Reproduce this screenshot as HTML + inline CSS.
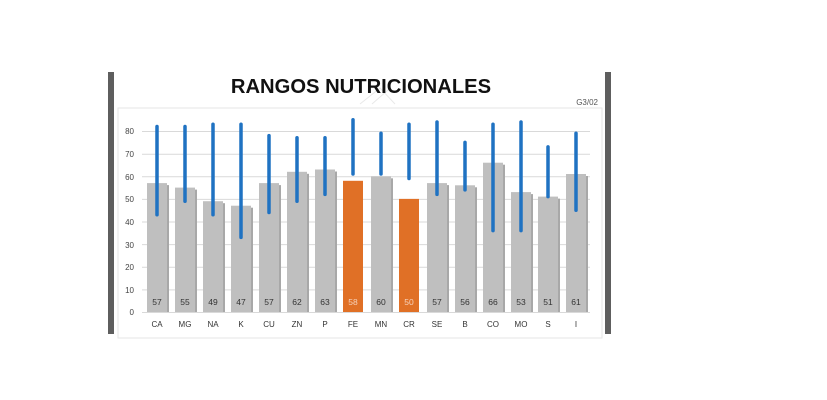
<!DOCTYPE html>
<html><head><meta charset="utf-8"><style>
html,body{margin:0;padding:0;background:#fff;}
svg{display:block;font-family:"Liberation Sans",sans-serif;}
</style></head><body>
<svg width="827" height="400" viewBox="0 0 827 400" xmlns="http://www.w3.org/2000/svg">
<rect x="108" y="72" width="6" height="262" fill="#5e5e5e"/>
<rect x="605" y="72" width="6" height="262" fill="#5e5e5e"/>
<rect x="118" y="108" width="484" height="230" fill="#fff" stroke="#e6e6e6"/>
<g stroke="#e8e8e8" stroke-width="1" fill="none">
<path d="M360 104 L380 88 L395 104" /><path d="M372 104 L388 90"/>
</g>
<text x="361" y="93" font-size="20.2" font-weight="bold" text-anchor="middle" fill="#111">RANGOS NUTRICIONALES</text>
<text x="598" y="105" font-size="8" text-anchor="end" fill="#555">G3/02</text>
<g stroke="#d9d9d9" stroke-width="1">
<line x1="142" x2="590" y1="312.5" y2="312.5"/>
<line x1="142" x2="590" y1="289.9" y2="289.9"/>
<line x1="142" x2="590" y1="267.3" y2="267.3"/>
<line x1="142" x2="590" y1="244.6" y2="244.6"/>
<line x1="142" x2="590" y1="222" y2="222"/>
<line x1="142" x2="590" y1="199.4" y2="199.4"/>
<line x1="142" x2="590" y1="176.8" y2="176.8"/>
<line x1="142" x2="590" y1="154.2" y2="154.2"/>
<line x1="142" x2="590" y1="131.5" y2="131.5"/>
</g>
<g font-size="8" fill="#444" text-anchor="end">
<text x="134" y="315">0</text><text x="134" y="293">10</text><text x="134" y="270">20</text>
<text x="134" y="248">30</text><text x="134" y="225">40</text><text x="134" y="202">50</text>
<text x="134" y="180">60</text><text x="134" y="157">70</text><text x="134" y="134">80</text>
</g>
<!-- shadows -->
<g fill="#a8a8a8">
<rect x="149" y="185.1" width="20" height="126.9"/>
<rect x="177" y="189.6" width="20" height="122.4"/>
<rect x="205" y="203.2" width="20" height="108.8"/>
<rect x="233" y="207.7" width="20" height="104.3"/>
<rect x="261" y="185.1" width="20" height="126.9"/>
<rect x="289" y="173.8" width="20" height="138.2"/>
<rect x="317" y="171.5" width="20" height="140.5"/>
<rect x="373" y="178.3" width="20" height="133.7"/>
<rect x="429" y="185.1" width="20" height="126.9"/>
<rect x="457" y="187.3" width="20" height="124.7"/>
<rect x="485" y="164.7" width="20" height="147.3"/>
<rect x="513" y="194.1" width="20" height="117.9"/>
<rect x="540" y="198.6" width="20" height="113.4"/>
<rect x="568" y="176" width="20" height="136"/>
</g>
<g fill="#bfbfbf">
<rect x="147" y="183.1" width="20" height="128.9"/>
<rect x="175" y="187.6" width="20" height="124.4"/>
<rect x="203" y="201.2" width="20" height="110.8"/>
<rect x="231" y="205.7" width="20" height="106.3"/>
<rect x="259" y="183.1" width="20" height="128.9"/>
<rect x="287" y="171.8" width="20" height="140.2"/>
<rect x="315" y="169.5" width="20" height="142.5"/>
<rect x="371" y="176.3" width="20" height="135.7"/>
<rect x="427" y="183.1" width="20" height="128.9"/>
<rect x="455" y="185.3" width="20" height="126.7"/>
<rect x="483" y="162.7" width="20" height="149.3"/>
<rect x="511" y="192.1" width="20" height="119.9"/>
<rect x="538" y="196.6" width="20" height="115.4"/>
<rect x="566" y="174" width="20" height="138"/>
</g>
<g fill="#e07026">
<rect x="343" y="180.8" width="20" height="131.2"/>
<rect x="399" y="198.9" width="20" height="113.1"/>
</g>
<g font-size="8.5" text-anchor="middle" fill="#333">
<text x="157" y="305">57</text><text x="185" y="305">55</text><text x="213" y="305">49</text>
<text x="241" y="305">47</text><text x="269" y="305">57</text><text x="297" y="305">62</text>
<text x="325" y="305">63</text><text x="353" y="305" fill="#f6d2bc">58</text><text x="381" y="305">60</text>
<text x="409" y="305" fill="#f6d2bc">50</text><text x="437" y="305">57</text><text x="465" y="305">56</text>
<text x="493" y="305">66</text><text x="521" y="305">53</text><text x="548" y="305">51</text>
<text x="576" y="305">61</text>
</g>
<g font-size="8" text-anchor="middle" fill="#333">
<text x="157" y="327">CA</text><text x="185" y="327">MG</text><text x="213" y="327">NA</text>
<text x="241" y="327">K</text><text x="269" y="327">CU</text><text x="297" y="327">ZN</text>
<text x="325" y="327">P</text><text x="353" y="327">FE</text><text x="381" y="327">MN</text>
<text x="409" y="327">CR</text><text x="437" y="327">SE</text><text x="465" y="327">B</text>
<text x="493" y="327">CO</text><text x="521" y="327">MO</text><text x="548" y="327">S</text>
<text x="576" y="327">I</text>
</g>
<g stroke="#1f72c2" stroke-width="3.5" stroke-linecap="round">
<line x1="157" x2="157" y1="126.5" y2="214.7"/>
<line x1="185" x2="185" y1="126.5" y2="201.2"/>
<line x1="213" x2="213" y1="124.3" y2="214.7"/>
<line x1="241" x2="241" y1="124.3" y2="237.4"/>
<line x1="269" x2="269" y1="135.6" y2="212.5"/>
<line x1="297" x2="297" y1="137.8" y2="201.2"/>
<line x1="325" x2="325" y1="137.8" y2="194.4"/>
<line x1="353" x2="353" y1="119.7" y2="174"/>
<line x1="381" x2="381" y1="133.3" y2="174"/>
<line x1="409" x2="409" y1="124.3" y2="178.5"/>
<line x1="437" x2="437" y1="122" y2="194.4"/>
<line x1="465" x2="465" y1="142.4" y2="189.9"/>
<line x1="493" x2="493" y1="124.3" y2="230.6"/>
<line x1="521" x2="521" y1="122" y2="230.6"/>
<line x1="548" x2="548" y1="146.9" y2="196.6"/>
<line x1="576" x2="576" y1="133.3" y2="210.2"/>
</g>
</svg>
</body></html>
